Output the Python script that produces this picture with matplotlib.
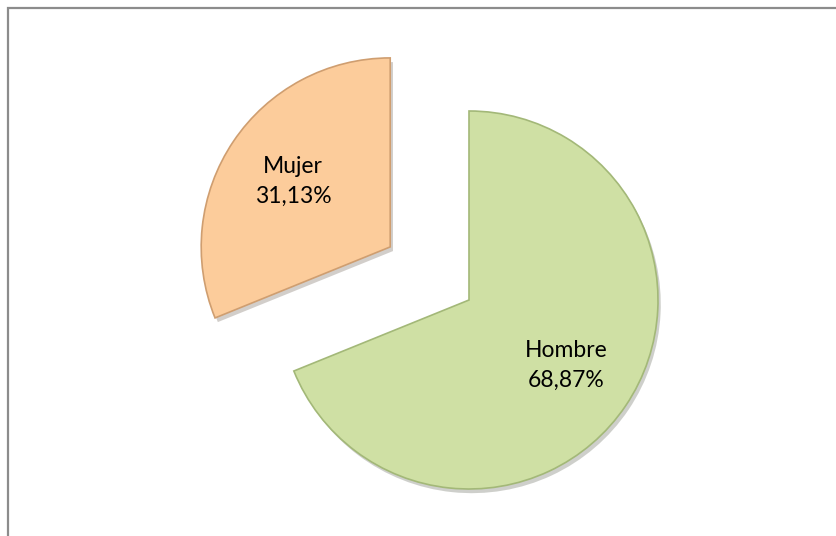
import matplotlib.pyplot as plt
import matplotlib.patheffects as pe
from matplotlib.patches import Rectangle

# data
categories = ['Hombre', 'Mujer']
shares = [68.87, 31.13]
colors = ['#cfe0a4', '#fccc9b']
edges = ['#a3b878', '#cf9e70']

labels = [f'{c}\n{v:.2f}%'.replace('.', ',') for c, v in zip(categories, shares)]

fig = plt.figure(figsize=(8.37, 5.36), dpi=100)
ax = fig.add_axes([0, 0, 1, 1])

wedges, texts = ax.pie(shares, labels=labels, colors=colors, startangle=90,
                       counterclock=False, center=(469, 236), radius=189,
                       explode=[0, 95], labeldistance=0.62,
                       wedgeprops=dict(linewidth=1.2),
                       textprops=dict(fontsize=16.5, family='Lato', color='black'),
                       frame=True)
ax.set_xlim(0, 837)
ax.set_ylim(0, 536)
ax.set_aspect('equal')
ax.axis('off')

for w, ec in zip(wedges, edges):
    w.set_edgecolor(ec)
    w.set_path_effects([pe.SimplePatchShadow(offset=(2, -3), alpha=0.25),
                        pe.Normal()])

for t in texts:
    t.set_ha('center')
    t.set_va('center')
    t.set_multialignment('center')
    t.set_linespacing(1.5)

# chart border (only left and top edges are visible)
fig.patches.append(Rectangle((8 / 837, -0.1), 1.2, (536 - 8) / 536 + 0.1,
                             transform=fig.transFigure, fill=False,
                             edgecolor='#8c8c8c', linewidth=1.6))

fig.savefig('out.png', dpi=100)
